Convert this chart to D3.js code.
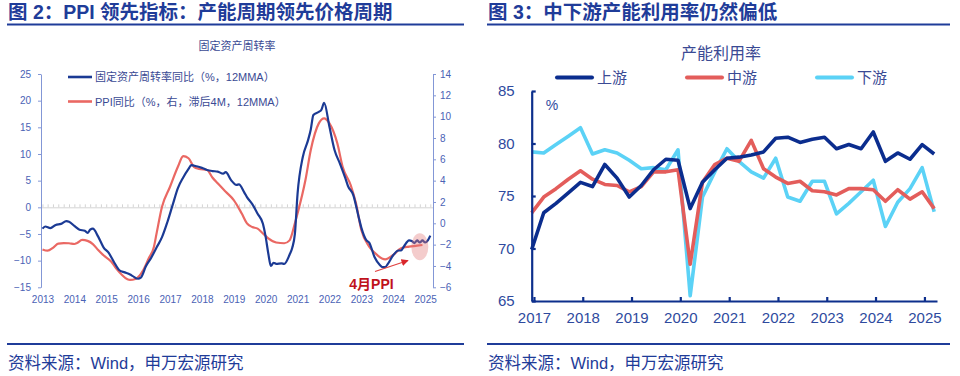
<!DOCTYPE html>
<html>
<head>
<meta charset="utf-8">
<script src="https://cdn.jsdelivr.net/npm/d3@7"></script>
<style>
  body { margin: 0; background: #fff; }
  svg { display: block; font-family: "Liberation Sans", "Noto Sans CJK SC", sans-serif; }
</style>
</head>
<body>
<div id="chart"></div>
<script>
// 图2：固定资产周转率同比（左轴） vs PPI同比（右轴，滞后4M）
const fatMonths = ["2013-01","2013-02","2013-04","2013-06","2013-08","2013-10","2013-11","2014-01","2014-03","2014-05","2014-06","2014-07","2014-08","2014-10","2014-12",
  "2015-02","2015-04","2015-06","2015-08","2015-10","2015-11","2016-01","2016-02","2016-04","2016-06","2016-08","2016-10","2016-12",
  "2017-02","2017-04","2017-06","2017-08","2017-09","2017-11","2018-01","2018-03","2018-05","2018-07","2018-09","2018-10","2018-12",
  "2019-02","2019-03","2019-05","2019-06","2019-08","2019-10","2019-12","2020-01","2020-02","2020-03","2020-04","2020-05","2020-07","2020-08","2020-10","2020-11","2020-12",
  "2021-01","2021-03","2021-05","2021-06","2021-07","2021-09","2021-10","2021-11","2022-01","2022-03","2022-05","2022-07","2022-08","2022-10","2022-12",
  "2023-01","2023-03","2023-04","2023-06","2023-08","2023-09","2023-10","2023-11","2024-01","2024-03","2024-04","2024-05","2024-07","2024-08","2024-09","2024-10","2024-11","2024-12",
  "2025-01","2025-02","2025-03"];
const fatYoY = [-4.0,-3.6,-3.9,-3.3,-3.1,-2.6,-2.7,-3.5,-4.2,-4.4,-4.8,-4.2,-4.0,-5.5,-7.5,
  -8.6,-10.3,-11.8,-12.2,-12.6,-12.9,-13.4,-13.2,-11.0,-9.4,-7.5,-5.6,-2.8,
  0.5,3.6,5.6,7.2,7.9,7.7,7.4,7.0,6.8,6.7,6.3,6.6,5.1,
  4.2,4.3,2.8,1.9,0.6,-1.2,-3.1,-5.5,-8.7,-11.0,-10.4,-10.6,-10.5,-10.6,-8.9,-7.6,-5.0,
  2.6,9.4,12.6,14.6,17.3,17.9,18.3,19.6,15.1,10.7,8.2,5.5,4.0,2.3,-1.8,
  -3.8,-6.2,-6.6,-9.3,-10.8,-11.2,-11.2,-10.6,-9.0,-8.1,-8.1,-7.4,-6.2,-6.3,-6.7,-6.2,-6.6,-6.2,
  -6.6,-6.2,-5.3];

const ppiMonths = ["2013-01","2013-03","2013-05","2013-07","2013-09","2013-11","2014-01","2014-02","2014-04","2014-06","2014-08","2014-10","2014-12",
  "2015-03","2015-05","2015-07","2015-09","2015-10","2015-12","2016-03","2016-05","2016-07","2016-08","2016-10",
  "2017-01","2017-04","2017-06","2017-08","2017-10","2017-12","2018-03","2018-05","2018-07","2018-10",
  "2019-01","2019-04","2019-06","2019-08","2019-10","2019-12","2020-02","2020-05","2020-08","2020-10","2020-12",
  "2021-01","2021-04","2021-06","2021-09","2021-11","2022-01","2022-04","2022-06","2022-09","2022-11",
  "2023-01","2023-04","2023-07","2023-10","2024-01","2024-04","2024-07","2024-10","2024-12"];
const ppiYoY = [-2.45,-2.57,-2.3,-1.9,-1.85,-1.87,-1.94,-1.85,-1.56,-1.65,-1.95,-2.5,-3.0,
  -3.6,-4.3,-4.84,-5.25,-5.31,-5.22,-4.38,-3.3,-2.19,-0.9,1.56,
  3.43,5.3,6.3,6.1,5.3,5.1,5.0,4.3,3.75,2.96,
  2.18,0.94,0.0,-0.35,-0.5,-0.95,-1.41,-1.8,-1.87,-1.6,0.0,
  0.94,4.06,6.87,9.37,9.84,9.37,7.5,5.3,3.59,1.87,
  -0.63,-2.19,-2.97,-3.38,-2.97,-2.34,-2.19,-2.1,-2.03];

const leftTicks = [-15,-10,-5,0,5,10,15,20,25];
const rightTicks = [-6,-4,-2,0,2,4,6,8,10,12,14];
const yearsL = d3.range(2013, 2026);

// 图3：产能利用率（季度）
const quarters = ["2016Q4","2017Q1","2017Q2","2017Q3","2017Q4","2018Q1","2018Q2","2018Q3","2018Q4",
  "2019Q1","2019Q2","2019Q3","2019Q4","2020Q1","2020Q2","2020Q3","2020Q4",
  "2021Q1","2021Q2","2021Q3","2021Q4","2022Q1","2022Q2","2022Q3","2022Q4",
  "2023Q1","2023Q2","2023Q3","2023Q4","2024Q1","2024Q2","2024Q3","2024Q4","2025Q1"];
const upstream = [69.9,73.4,74.3,75.3,76.3,75.9,78.0,76.7,74.9,
  76.0,77.5,78.5,78.4,73.8,76.3,77.5,78.6,
  78.7,78.9,79.2,80.5,80.6,80.1,80.4,80.6,
  79.5,79.9,79.5,81.1,78.3,79.1,78.5,79.9,79.0];
const midstream = [73.4,74.9,75.7,76.6,77.4,76.6,76.1,76.0,75.4,
  75.9,77.3,77.3,77.5,68.5,76.3,78.0,78.6,
  78.3,80.3,77.6,76.8,76.2,76.4,75.5,75.4,
  75.1,75.7,75.7,75.6,74.5,75.6,74.7,75.4,73.8];
const downstream = [79.2,79.1,79.9,80.7,81.5,79.0,79.4,79.1,78.4,
  77.6,77.7,77.5,79.4,65.5,74.9,77.3,79.5,
  78.3,77.3,76.7,78.6,74.9,74.5,76.4,76.4,
  73.3,74.3,75.4,76.5,72.1,74.4,75.7,77.7,73.5];
const capTicks = [65,70,75,80,85];
const yearsR = d3.range(2017, 2026);

const titleColor = "#1f3c99";
const textColor = "#3a4a94";

const svg = d3.select("#chart").append("svg").attr("width", 960).attr("height", 376);

// ---------- 标题和底部 ----------
function header(x0, x1, title) {
  svg.append("text").attr("x", x0 + 1).attr("y", 19)
    .style("font-size", "19.5px").style("font-weight", "bold").style("fill", titleColor)
    .text(title);
  svg.append("line").attr("x1", x0).attr("x2", x1).attr("y1", 24.5).attr("y2", 24.5)
    .attr("stroke", titleColor).attr("stroke-width", 2.2);
  svg.append("line").attr("x1", x0).attr("x2", x1).attr("y1", 344).attr("y2", 344)
    .attr("stroke", titleColor).attr("stroke-width", 2.2);
  svg.append("text").attr("x", x0 + 1).attr("y", 368.5)
    .style("font-size", "16.5px").style("fill", titleColor)
    .text("资料来源：Wind，申万宏源研究");
}
header(7, 464, "图 2：PPI 领先指标：产能周期领先价格周期");
header(487, 950, "图 3：中下游产能利用率仍然偏低");

// ---------- 左图 ----------
const parseMonth = d3.timeParse("%Y-%m");
const fatData = fatMonths.map((m, i) => ({ date: parseMonth(m), value: fatYoY[i] }));
const ppiData = ppiMonths.map((m, i) => ({ date: parseMonth(m), value: ppiYoY[i] }));

const xL = d3.scaleTime().domain([new Date(2012, 11, 15), new Date(2025, 3, 1)]).range([41, 433]);
const yL = d3.scaleLinear().domain([-15, 25]).range([287.3, 74]);
const yR = d3.scaleLinear().domain([-6, 14]).range([287.3, 74]);

svg.append("text").attr("x", 237).attr("y", 49.5).attr("text-anchor", "middle")
  .style("font-size", "11px").style("fill", textColor).text("固定资产周转率");

// 零轴（带小刻度）
const zeroAxis = svg.append("g").attr("transform", `translate(0,${yL(0)})`)
  .call(d3.axisBottom(xL).ticks(d3.timeMonth.every(2)).tickSize(-3).tickSizeOuter(0).tickFormat(""));
zeroAxis.selectAll(".domain, .tick line").attr("stroke", "#d4d4d4");

// 年份标签
const yearAxis = svg.append("g").attr("transform", `translate(0,287.3)`)
  .call(d3.axisBottom(xL).tickValues(yearsL.map(y => new Date(y, 0, 1)))
    .tickSize(0).tickPadding(9).tickFormat(d3.timeFormat("%Y")));
yearAxis.select(".domain").remove();
yearAxis.selectAll("text").style("font-size", "10px").style("font-family", "Liberation Sans, sans-serif").attr("fill", "#4a62b5");

const axL = svg.append("g").attr("transform", "translate(41,0)")
  .call(d3.axisLeft(yL).tickValues(leftTicks).tickSize(3).tickPadding(7).tickSizeOuter(0));
const axR = svg.append("g").attr("transform", "translate(433,0)")
  .call(d3.axisRight(yR).tickValues(rightTicks).tickSize(3).tickPadding(4).tickSizeOuter(0));
[axL, axR].forEach(ax => {
  ax.selectAll(".domain, .tick line").attr("stroke", "#8397d6");
  ax.selectAll("text").style("font-size", "10px").style("font-family", "Liberation Sans, sans-serif").attr("fill", "#4a62b5");
});

const lineL = d3.line().x(d => xL(d.date)).y(d => yL(d.value)).curve(d3.curveMonotoneX);
const lineR = d3.line().x(d => xL(d.date)).y(d => yR(d.value)).curve(d3.curveMonotoneX);

svg.append("path").datum(ppiData).attr("fill", "none").attr("stroke", "#ea6863")
  .attr("stroke-width", 2.2).attr("d", lineR);
svg.append("path").datum(fatData).attr("fill", "none").attr("stroke", "#1b3a94")
  .attr("stroke-width", 2.2).attr("stroke-linejoin", "round").attr("d", lineL);

// 图例
const legL = [
  { label: "固定资产周转率同比（%，12MMA）", color: "#1b3a94", y: 77 },
  { label: "PPI同比（%，右，滞后4M，12MMA）", color: "#ea6863", y: 101.5 }
];
legL.forEach(d => {
  svg.append("line").attr("x1", 68).attr("x2", 92).attr("y1", d.y).attr("y2", d.y)
    .attr("stroke", d.color).attr("stroke-width", 2.6);
  svg.append("text").attr("x", 95).attr("y", d.y + 4)
    .style("font-size", "11px").style("fill", textColor).text(d.label);
});

// 4月PPI 标注
const noteDate = new Date(2024, 10, 1);
svg.append("ellipse").attr("cx", xL(noteDate)).attr("cy", yR(-2.2))
  .attr("rx", 8.5).attr("ry", 13.5).attr("fill", "rgba(226,120,120,0.38)");
svg.append("defs").append("marker").attr("id", "arrow")
  .attr("viewBox", "0 0 10 10").attr("refX", 9).attr("refY", 5)
  .attr("markerWidth", 6).attr("markerHeight", 6).attr("orient", "auto")
  .append("path").attr("d", "M0,0L10,5L0,10z").attr("fill", "#d9262b");
svg.append("line").attr("x1", 375).attr("y1", 271.5).attr("x2", 408).attr("y2", 260.5)
  .attr("stroke", "#e0413f").attr("stroke-width", 1.2).attr("marker-end", "url(#arrow)");
svg.append("text").attr("x", 371.5).attr("y", 289).attr("text-anchor", "middle")
  .style("font-size", "14px").style("font-weight", "bold").style("fill", "#c0121c").text("4月PPI");

// ---------- 右图 ----------
const qDate = q => new Date(+q.slice(0, 4), +q.slice(5) * 3 - 1, 15);
const xQ = d3.scaleTime().domain([new Date(2016, 11, 15), new Date(2025, 3, 5)]).range([531.7, 937]);
const yC = d3.scaleLinear().domain([65, 85]).range([301, 91]);

svg.append("text").attr("x", 721).attr("y", 59).attr("text-anchor", "middle")
  .style("font-size", "16px").style("fill", textColor).text("产能利用率");

const capSeries = [
  { name: "上游", values: upstream, color: "#0b2d8e", lx: 557 },
  { name: "中游", values: midstream, color: "#e35d5b", lx: 687 },
  { name: "下游", values: downstream, color: "#5bd2f6", lx: 817 }
];

capSeries.forEach(s => {
  svg.append("line").attr("x1", s.lx).attr("x2", s.lx + 35).attr("y1", 77.5).attr("y2", 77.5)
    .attr("stroke", s.color).attr("stroke-width", 4).attr("stroke-linecap", "round");
  svg.append("text").attr("x", s.lx + 40).attr("y", 83)
    .style("font-size", "15px").style("fill", textColor).text(s.name);
});

const lineQ = d3.line().x(d => xQ(d.date)).y(d => yC(d.value));
// 绘制顺序：下游、中游在下，上游在上
[capSeries[2], capSeries[1], capSeries[0]].forEach(s => {
  const data = quarters.map((q, i) => ({ date: qDate(q), value: s.values[i] }));
  svg.append("path").datum(data).attr("fill", "none").attr("stroke", s.color)
    .attr("stroke-width", 3.6).attr("stroke-linejoin", "round").attr("d", lineQ);
});

const axY = svg.append("g").attr("transform", "translate(531.7,0)")
  .call(d3.axisLeft(yC).tickValues(capTicks).tickSize(-4).tickPadding(17).tickSizeOuter(0));
const axX = svg.append("g").attr("transform", "translate(0,301)")
  .call(d3.axisBottom(xQ).tickValues(yearsR.map(y => new Date(y, 0, 1)))
    .tickSize(-4).tickPadding(11).tickSizeOuter(0).tickFormat(d3.timeFormat("%Y")));
[axY, axX].forEach(ax => {
  ax.selectAll(".domain, .tick line").attr("stroke", "#0d2f8c").attr("stroke-width", 2.2);
  ax.selectAll("text").style("font-size", "15px").attr("fill", "#2e4a9e");
});

svg.append("text").attr("x", 552).attr("y", 110).attr("text-anchor", "middle")
  .style("font-size", "14px").style("fill", "#2e4a9e").text("%");
</script>
</body>
</html>
